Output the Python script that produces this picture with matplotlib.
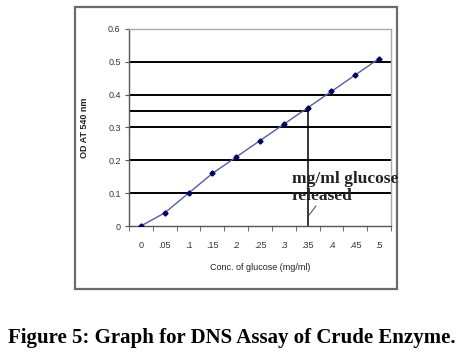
import matplotlib
matplotlib.use("Agg")
import matplotlib.pyplot as plt
from matplotlib.patches import Rectangle

categories = ["0", ".05", ".1", ".15", ".2", ".25", ".3", ".35", ".4", ".45", ".5"]
od_values = [0.0, 0.04, 0.10, 0.16, 0.21, 0.26, 0.31, 0.36, 0.41, 0.46, 0.51]
y_ticks = [0, 0.1, 0.2, 0.3, 0.4, 0.5, 0.6]
y_tick_labels = ["0", "0.1", "0.2", "0.3", "0.4", "0.5", "0.6"]
ref_value = 0.35
ref_index = 7

W, H = 464, 357
fig = plt.figure(figsize=(W / 100, H / 100), dpi=100)

# outer chart frame
fig.patches.append(Rectangle((75 / W, 1 - 289 / H), (397 - 75) / W, (289 - 7) / H,
                             transform=fig.transFigure, fill=False,
                             edgecolor="#6b6b6b", linewidth=1.6))

ax = fig.add_axes([129 / W, 1 - 226 / H, (391 - 129) / W, (226 - 29) / H])
x = list(range(len(categories)))
ax.set_xlim(-0.5, len(categories) - 0.5)
ax.set_ylim(0, 0.6)

# gridlines
for yv in y_ticks[1:-1]:
    ax.axhline(yv, color="black", linewidth=1.4, zorder=1)
ax.plot([-0.5, ref_index], [ref_value, ref_value], color="black", linewidth=1.4, zorder=1)
ax.plot([ref_index, ref_index], [0, ref_value], color="black", linewidth=1.1, zorder=1)

ax.plot(x, od_values, color="#5a5aa8", linewidth=1.0, marker="D", markersize=2.6,
        markerfacecolor="#000060", markeredgecolor="#000060", zorder=3)

for s in ["top", "right"]:
    ax.spines[s].set_color("#aaaaaa")
    ax.spines[s].set_linewidth(1.0)
for s in ["left", "bottom"]:
    ax.spines[s].set_color("#555555")
    ax.spines[s].set_linewidth(1.0)

ax.set_yticks(y_ticks)
ax.set_yticklabels(y_tick_labels, fontsize=6.5, color="#333333", family="Liberation Sans")
ax.set_xticks(x)
ax.set_xticklabels(categories, fontsize=6.5, color="#333333", family="Liberation Sans")
ax.set_xticks([i - 0.5 for i in range(len(categories) + 1)], minor=True)
ax.tick_params(axis="x", which="major", length=0, pad=11)
ax.tick_params(axis="x", which="minor", length=3.5, direction="out", color="#555555")
ax.tick_params(axis="y", length=3, direction="out", color="#555555", pad=3)

ax.set_xlabel("Conc. of glucose (mg/ml)", fontsize=6.5, family="Liberation Sans",
              color="#222222", labelpad=9)
ax.set_ylabel("OD AT 540 nm", fontsize=6.5, family="Liberation Sans",
              fontweight="bold", color="#222222", labelpad=14)

fig.text(292 / W, 1 - 200 / H, "mg/ml glucose\nreleased", ha="left", va="baseline",
         fontsize=12.5, fontweight="bold", family="Liberation Serif",
         linespacing=1.05, color="#222222")
fig.add_artist(plt.Line2D([309 / W, 316 / W], [1 - 215 / H, 1 - 206 / H],
                          transform=fig.transFigure, color="#444444", linewidth=0.7))

fig.text(0.5, 1 - 338 / H, "Figure 5: Graph for DNS Assay of Crude Enzyme.",
         ha="center", va="center", fontsize=15, fontweight="bold",
         family="Liberation Serif")

fig.savefig("out.png", dpi=100)
